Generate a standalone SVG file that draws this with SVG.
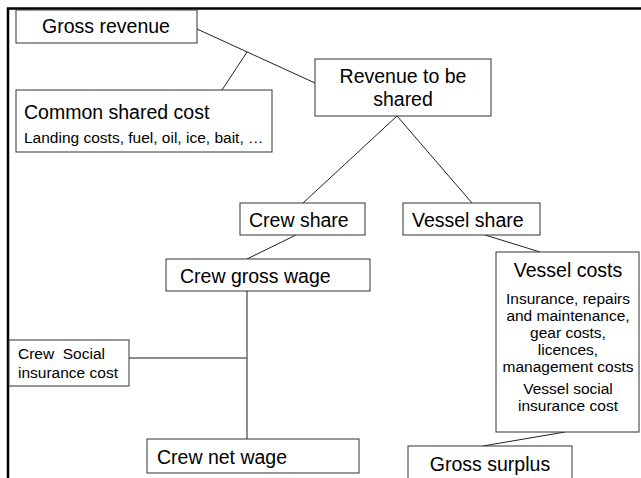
<svg xmlns="http://www.w3.org/2000/svg" width="641" height="478" viewBox="0 0 641 478">
<style>
.box{fill:#fff;stroke:#333;stroke-width:1}
.t{font-family:"Liberation Sans",Arial,sans-serif;fill:#000}
.big{font-size:19.5px}
.sm{font-size:15.5px}
.ln{stroke:#222;stroke-width:1;fill:none}
.gl{stroke:#666;stroke-width:1.5;fill:none}
</style>
<rect x="0" y="0" width="641" height="478" fill="#fff"/>
<path d="M8,478 V8.5 H641" fill="none" stroke="#000" stroke-width="2.5"/>
<g id="connectors">
<line class="ln" x1="197" y1="29" x2="315" y2="83"/>
<line class="ln" x1="247" y1="52" x2="222" y2="90"/>
<line class="ln" x1="397" y1="116" x2="303" y2="203"/>
<line class="ln" x1="397" y1="116" x2="472" y2="203"/>
<line class="ln" x1="296" y1="235" x2="247" y2="259"/>
<line class="ln" x1="485" y1="235" x2="540" y2="252"/>
<line class="gl" x1="247" y1="291" x2="247" y2="439"/>
<line class="gl" x1="129" y1="358" x2="247" y2="358"/>
<line class="ln" x1="565" y1="432" x2="483" y2="446"/>
</g>
<g id="gross-revenue">
<rect class="box" x="16" y="10" width="181" height="33"/>
<text class="t big" x="106" y="33" text-anchor="middle">Gross revenue</text>
</g>
<g id="common-shared-cost">
<rect class="box" x="16" y="90" width="256" height="62"/>
<text class="t big" x="24" y="119">Common shared cost</text>
<text class="t sm" x="24" y="143">Landing costs, fuel, oil, ice, bait, …</text>
</g>
<g id="revenue-to-be-shared">
<rect class="box" x="315" y="59" width="176" height="57"/>
<text class="t big" x="403" y="83" text-anchor="middle">Revenue to be</text>
<text class="t big" x="403" y="106" text-anchor="middle">shared</text>
</g>
<g id="crew-share">
<rect class="box" x="240" y="203" width="125" height="32"/>
<text class="t big" x="249" y="227">Crew share</text>
</g>
<g id="vessel-share">
<rect class="box" x="403" y="203" width="137" height="32"/>
<text class="t big" x="412" y="227">Vessel share</text>
</g>
<g id="crew-gross-wage">
<rect class="box" x="166" y="259" width="204" height="32"/>
<text class="t big" x="180" y="283">Crew gross wage</text>
</g>
<g id="vessel-costs">
<rect class="box" x="496" y="252" width="143" height="180"/>
<text class="t big" x="568" y="277" text-anchor="middle">Vessel costs</text>
<text class="t sm" x="568" y="304" text-anchor="middle">Insurance, repairs</text>
<text class="t sm" x="568" y="321" text-anchor="middle">and maintenance,</text>
<text class="t sm" x="568" y="338" text-anchor="middle">gear costs,</text>
<text class="t sm" x="568" y="355" text-anchor="middle">licences,</text>
<text class="t sm" x="568" y="372" text-anchor="middle">management costs</text>
<text class="t sm" x="568" y="394" text-anchor="middle">Vessel social</text>
<text class="t sm" x="568" y="411" text-anchor="middle">insurance cost</text>
</g>
<g id="crew-social-insurance-cost">
<rect class="box" x="9" y="340" width="120" height="46"/>
<text class="t sm" x="18" y="359" xml:space="preserve">Crew  Social</text>
<text class="t sm" x="18" y="378">insurance cost</text>
</g>
<g id="crew-net-wage">
<rect class="box" x="147" y="439" width="212" height="34"/>
<text class="t big" x="157" y="464">Crew net wage</text>
</g>
<g id="gross-surplus">
<rect class="box" x="408" y="446" width="164" height="40"/>
<text class="t big" x="490" y="471" text-anchor="middle">Gross surplus</text>
</g>
</svg>
